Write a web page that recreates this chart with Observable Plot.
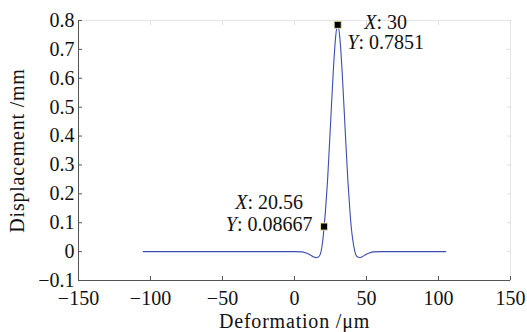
<!DOCTYPE html>
<html><head><meta charset="utf-8">
<script src="https://cdn.jsdelivr.net/npm/d3@7"></script>
<script src="https://cdn.jsdelivr.net/npm/@observablehq/plot@0.6"></script>
<style>
html,body{margin:0;padding:0;background:#fff;}
svg{font-family:"Liberation Serif","DejaVu Serif",serif;}
</style></head>
<body><div id="chart"></div>
<script>
const deformation = [-105,-50,0,5,8,11,13,15,16.5,18,19,20,20.56,21.5,23,25,27,28.5,30,31.5,33,35,37,38.5,39.5,40.5,41.5,42.5,44,45.5,47,49,52,55,60,105];
const displacement = [0,0,0,-0.001,-0.005,-0.012,-0.018,-0.021,-0.019,-0.008,0.015,0.055,0.08667,0.14,0.25,0.44,0.63,0.74,0.7851,0.74,0.63,0.44,0.25,0.14,0.08,0.04,0.01,-0.01,-0.019,-0.021,-0.018,-0.012,-0.005,-0.001,0,0];
const tipX = [30, 20.56];
const tipY = [0.7851, 0.08667];
const tipSide = ["right", "left"];
const xDomain = [-150, 150];
const yDomain = [-0.1, 0.8];
const xTicks = [-150,-100,-50,0,50,100,150];
const yTicks = [-0.1,0,0.1,0.2,0.3,0.4,0.5,0.6,0.7,0.8];
const xLabel = "Deformation /μm";
const yLabel = "Displacement /mm";

const fmt = d => (d < 0 ? "−" : "") + String(Math.abs(d));
const curve = deformation.map((x,i)=>({x, y: displacement[i]}));
const tips = tipX.map((x,i)=>({x, y: tipY[i], side: tipSide[i]}));
const tipsR = tips.filter(d=>d.side==="right");
const tipsL = tips.filter(d=>d.side==="left");

const chart = Plot.plot({
  width: 527, height: 332,
  marginLeft: 78, marginRight: 17, marginTop: 20, marginBottom: 52,
  style: {fontSize: "20px", fontFamily: "Liberation Serif, serif", color: "#111", background: "#fff"},
  x: {domain: xDomain},
  y: {domain: yDomain},
  marks: [
    Plot.frame({stroke: "#e6e6e6"}),
    Plot.axisX({anchor: "top", ticks: xTicks, tickSize: -4, stroke: "#e0e0e0", label: null, tickFormat: () => ""}),
    Plot.axisY({anchor: "right", ticks: yTicks, tickSize: -4, stroke: "#e0e0e0", label: null, tickFormat: () => ""}),
    Plot.ruleY([yDomain[0]], {stroke: "#555"}),
    Plot.ruleX([xDomain[0]], {stroke: "#555"}),
    Plot.axisX({ticks: xTicks, tickSize: -4, tickPadding: 14, stroke: "#555", fill: "#111", tickFormat: fmt,
      label: xLabel, labelAnchor: "center", labelOffset: 47, labelArrow: "none"}),
    Plot.axisY({ticks: yTicks, tickSize: -4, tickPadding: 8, stroke: "#555", fill: "#111", tickFormat: fmt,
      label: yLabel, labelAnchor: "center", labelOffset: 69, labelArrow: "none"}),
    Plot.line(curve, {x: "x", y: "y", stroke: "#3c4db0", strokeWidth: 1.1, curve: "monotone-x"}),
    Plot.dot(tips, {x: "x", y: "y", symbol: "square", r: 4, fill: "#000", stroke: "#e8e2a8", strokeWidth: 1}),
    Plot.text(tipsR, {x: "x", y: "y", text: d => "X: " + d.x, dx: 48, dy: -2, textAnchor: "middle", fill: "#111"}),
    Plot.text(tipsR, {x: "x", y: "y", text: d => "Y: " + d.y, dx: 48, dy: 18, textAnchor: "middle", fill: "#111"}),
    Plot.text(tipsL, {x: "x", y: "y", text: d => "X: " + d.x, dx: -55, dy: -24, textAnchor: "middle", fill: "#111"}),
    Plot.text(tipsL, {x: "x", y: "y", text: d => "Y: " + d.y, dx: -55, dy: -2, textAnchor: "middle", fill: "#111"})
  ]
});
document.getElementById("chart").appendChild(chart);
d3.select(chart).selectAll("text").each(function(){
  const t = this.textContent;
  const m = /^([XY]): (.*)$/.exec(t);
  if (m && this.children.length === 0) {
    const el = d3.select(this);
    el.text(null);
    el.append("tspan").attr("font-style", "italic").text(m[1]);
    el.append("tspan").text(": " + m[2]);
  }
  if (t === xLabel || t === yLabel) d3.select(this).attr("letter-spacing", "0.8px");
});
</script></body></html>
